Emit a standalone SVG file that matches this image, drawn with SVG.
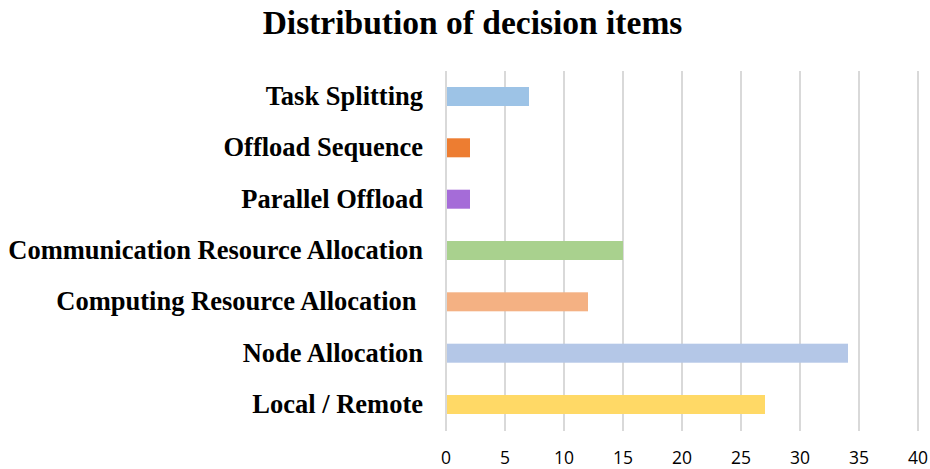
<svg xmlns="http://www.w3.org/2000/svg" width="930" height="469" viewBox="0 0 930 469">
<style>
.title{font-family:"Liberation Serif","Times New Roman",serif;font-weight:bold;font-size:33.5px;fill:#000}
.lbl{font-family:"Liberation Serif","Times New Roman",serif;font-weight:bold;font-size:26.5px;fill:#000;text-anchor:end}
.tick{font-family:"Open Sans","Liberation Sans",sans-serif;font-size:17.5px;fill:#000;text-anchor:middle}
.grid line{stroke:#d9d9d9;stroke-width:2}
</style>
<rect width="930" height="469" fill="#fff"/>
<text class="title" x="472.5" y="34" text-anchor="middle">Distribution of decision items</text>
<g id="grid" class="grid">
<line x1="446" y1="71" x2="446" y2="431"/>
<line x1="505" y1="71" x2="505" y2="431"/>
<line x1="564" y1="71" x2="564" y2="431"/>
<line x1="623" y1="71" x2="623" y2="431"/>
<line x1="682" y1="71" x2="682" y2="431"/>
<line x1="741" y1="71" x2="741" y2="431"/>
<line x1="800" y1="71" x2="800" y2="431"/>
<line x1="859" y1="71" x2="859" y2="431"/>
<line x1="918" y1="71" x2="918" y2="431"/>
</g>
<g id="axis-labels">
<text class="tick" x="446" y="464">0</text>
<text class="tick" x="505" y="464">5</text>
<text class="tick" x="564" y="464">10</text>
<text class="tick" x="623" y="464">15</text>
<text class="tick" x="682" y="464">20</text>
<text class="tick" x="741" y="464">25</text>
<text class="tick" x="800" y="464">30</text>
<text class="tick" x="859" y="464">35</text>
<text class="tick" x="918" y="464">40</text>
</g>
<g id="task-splitting">
<rect x="447" y="87" width="82" height="19" fill="#9DC3E6"/>
<text class="lbl" x="423" y="105">Task Splitting</text>
</g>
<g id="offload-sequence">
<rect x="447" y="138.3" width="23" height="19" fill="#ED7D31"/>
<text class="lbl" x="423" y="156.3">Offload Sequence</text>
</g>
<g id="parallel-offload">
<rect x="447" y="189.7" width="23" height="19" fill="#A56CD8"/>
<text class="lbl" x="423" y="207.7">Parallel Offload</text>
</g>
<g id="communication-resource-allocation">
<rect x="447" y="241" width="176" height="19" fill="#A9D18E"/>
<text class="lbl" x="423" y="259">Communication Resource Allocation</text>
</g>
<g id="computing-resource-allocation">
<rect x="447" y="292.3" width="141" height="19" fill="#F4B183"/>
<text class="lbl" x="416.5" y="310.3">Computing Resource Allocation</text>
</g>
<g id="node-allocation">
<rect x="447" y="343.7" width="401" height="19" fill="#B4C7E7"/>
<text class="lbl" x="423" y="361.7">Node Allocation</text>
</g>
<g id="local-remote">
<rect x="447" y="395" width="318" height="19" fill="#FFD966"/>
<text class="lbl" x="423" y="413">Local / Remote</text>
</g>
</svg>
